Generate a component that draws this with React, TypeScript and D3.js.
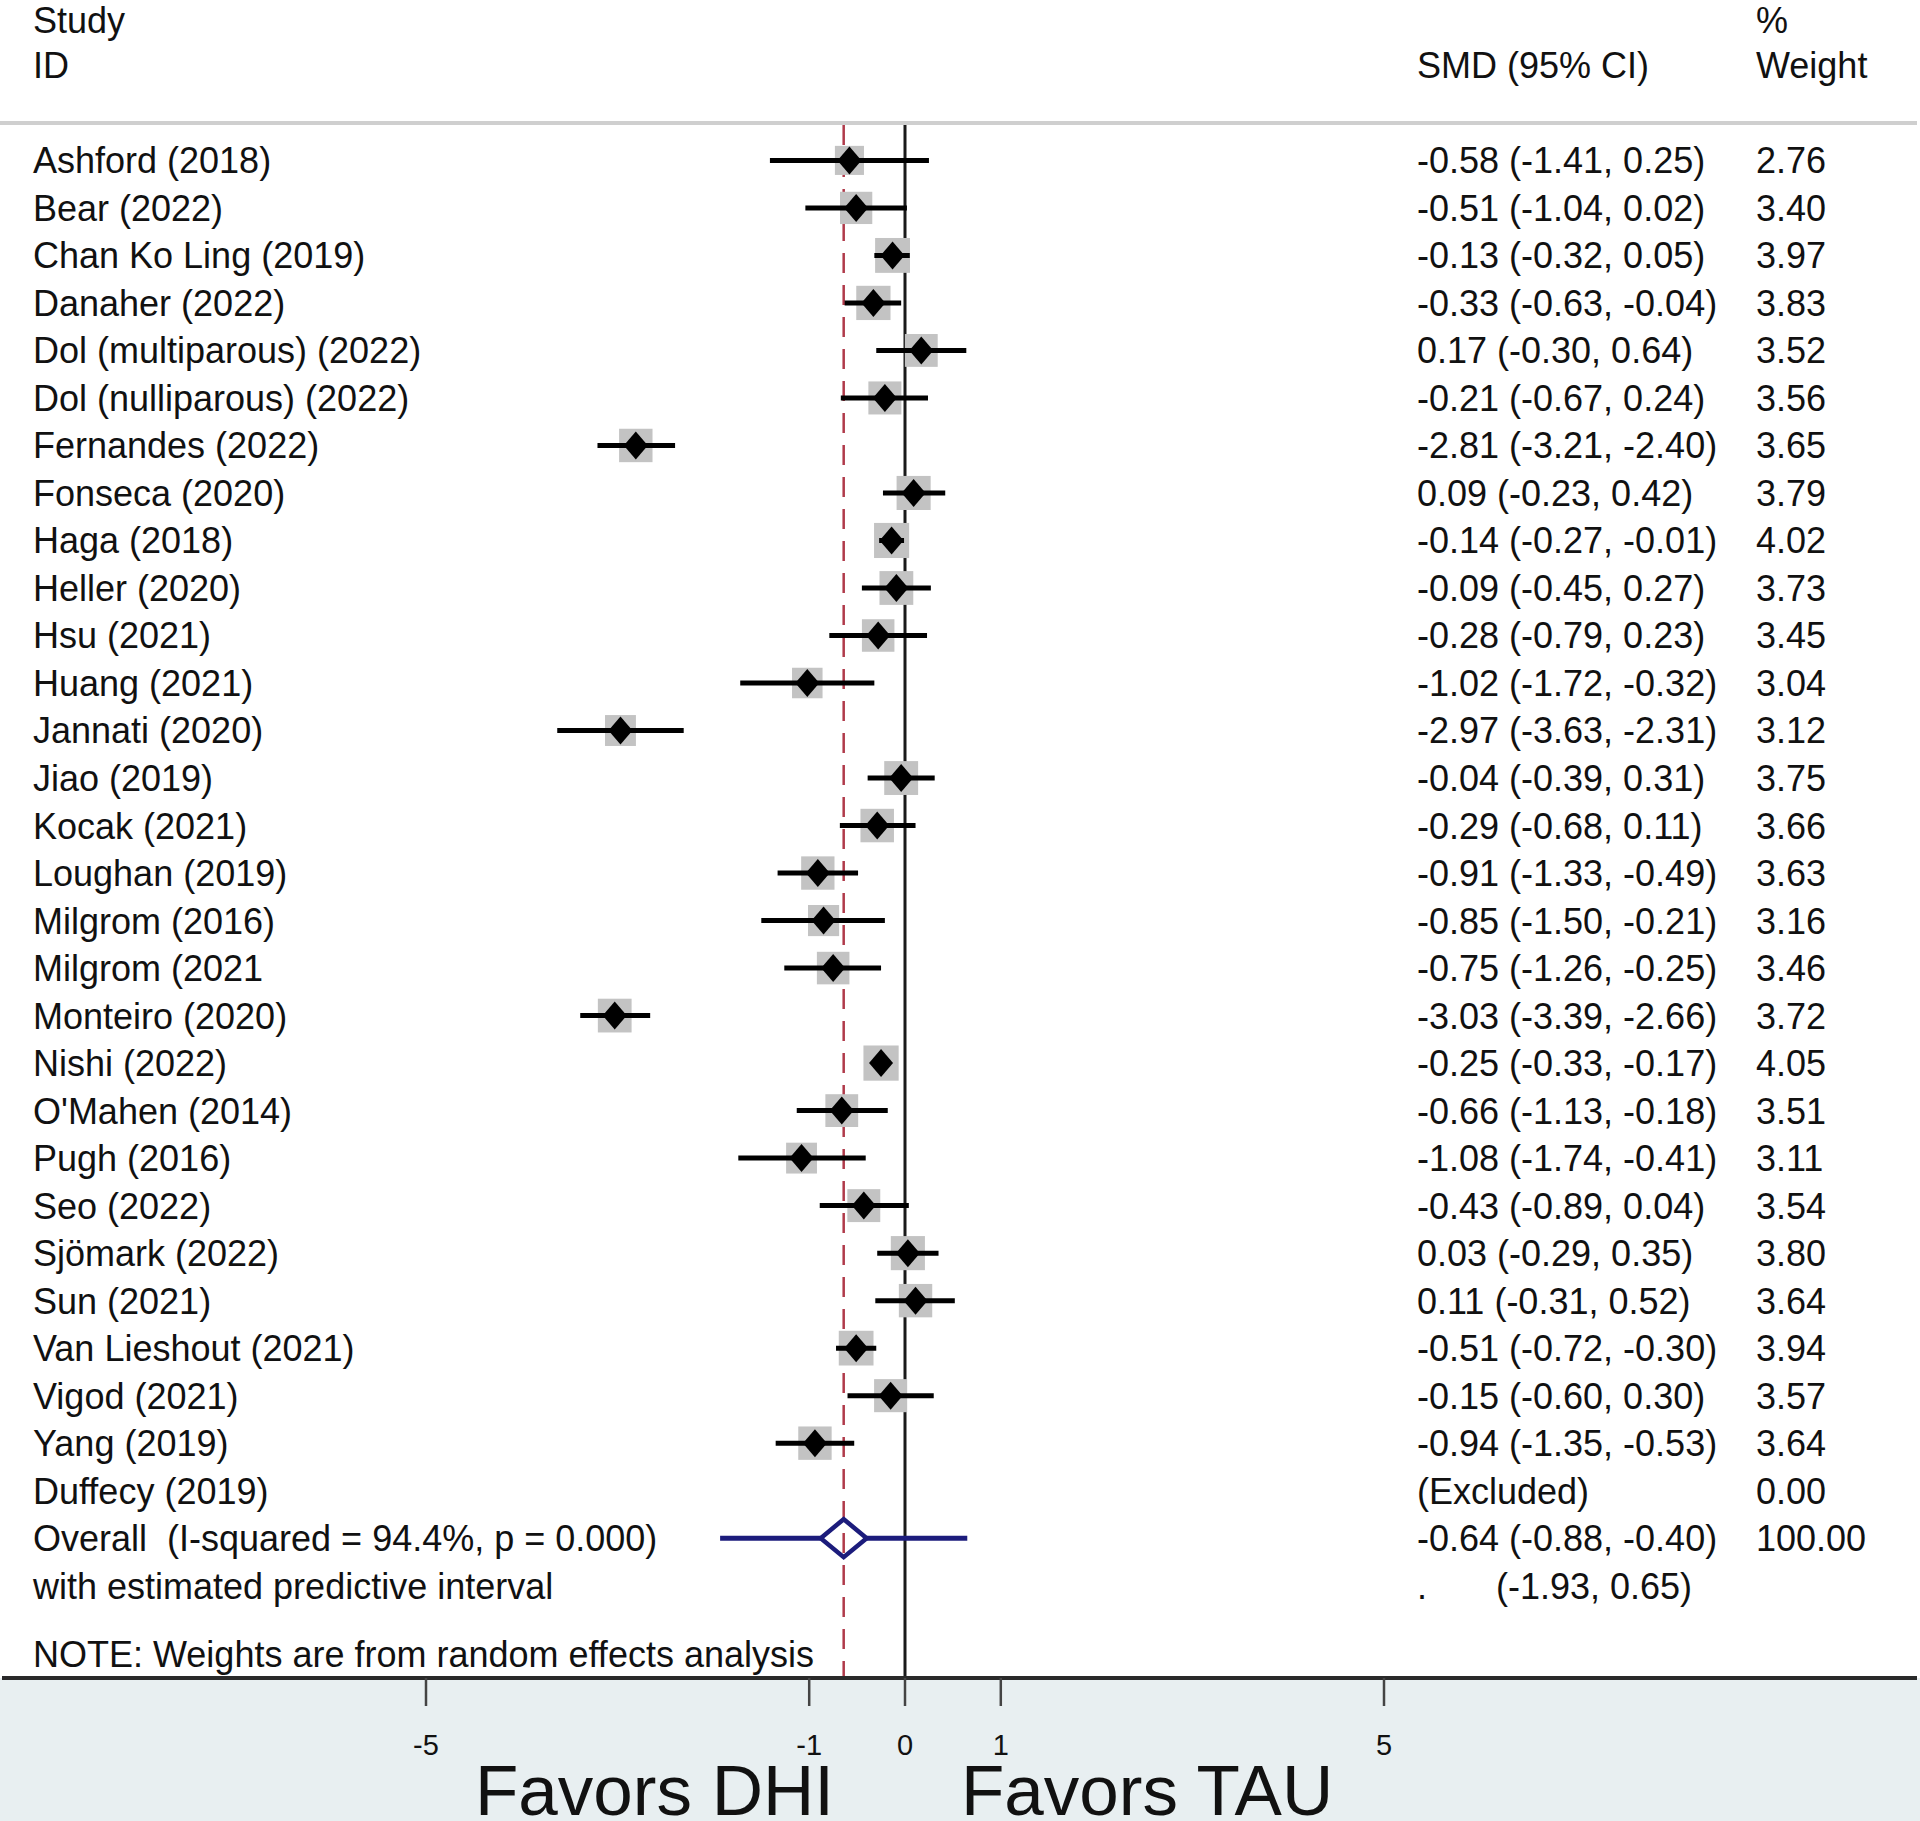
import React from 'react';
import * as d3 from 'd3';

// ---------- DATA ----------
const studies = [
  'Ashford (2018)', 'Bear (2022)', 'Chan Ko Ling (2019)', 'Danaher (2022)',
  'Dol (multiparous) (2022)', 'Dol (nulliparous) (2022)', 'Fernandes (2022)',
  'Fonseca (2020)', 'Haga (2018)', 'Heller (2020)', 'Hsu (2021)', 'Huang (2021)',
  'Jannati (2020)', 'Jiao (2019)', 'Kocak (2021)', 'Loughan (2019)',
  'Milgrom (2016)', 'Milgrom (2021', 'Monteiro (2020)', 'Nishi (2022)',
  "O'Mahen (2014)", 'Pugh (2016)', 'Seo (2022)', 'Sjömark (2022)', 'Sun (2021)',
  'Van Lieshout (2021)', 'Vigod (2021)', 'Yang (2019)',
];
const smd = [
  -0.58, -0.51, -0.13, -0.33, 0.17, -0.21, -2.81, 0.09, -0.14, -0.09, -0.28, -1.02,
  -2.97, -0.04, -0.29, -0.91, -0.85, -0.75, -3.03, -0.25, -0.66, -1.08, -0.43, 0.03,
  0.11, -0.51, -0.15, -0.94,
];
const lower = [
  -1.41, -1.04, -0.32, -0.63, -0.30, -0.67, -3.21, -0.23, -0.27, -0.45, -0.79, -1.72,
  -3.63, -0.39, -0.68, -1.33, -1.50, -1.26, -3.39, -0.33, -1.13, -1.74, -0.89, -0.29,
  -0.31, -0.72, -0.60, -1.35,
];
const upper = [
  0.25, 0.02, 0.05, -0.04, 0.64, 0.24, -2.40, 0.42, -0.01, 0.27, 0.23, -0.32,
  -2.31, 0.31, 0.11, -0.49, -0.21, -0.25, -2.66, -0.17, -0.18, -0.41, 0.04, 0.35,
  0.52, -0.30, 0.30, -0.53,
];
const weights = [
  2.76, 3.40, 3.97, 3.83, 3.52, 3.56, 3.65, 3.79, 4.02, 3.73, 3.45, 3.04,
  3.12, 3.75, 3.66, 3.63, 3.16, 3.46, 3.72, 4.05, 3.51, 3.11, 3.54, 3.80,
  3.64, 3.94, 3.57, 3.64,
];
const excludedStudy = 'Duffecy (2019)';
const excludedWeight = 0.0;
const overallLabel = 'Overall  (I-squared = 94.4%, p = 0.000)';
const overallEstimate = [-0.64, -0.88, -0.40]; // estimate, lower, upper
const overallWeight = 100.0;
const predictiveLabel = 'with estimated predictive interval';
const predictiveInterval = [-1.93, 0.65];
const noteText = 'NOTE: Weights are from random effects analysis';
const xTicks = [-5, -1, 0, 1, 5];
const favorsLabels = ['Favors DHI', 'Favors TAU'];

// ---------- LAYOUT ----------
const W = 1920;
const H = 1821;
const FONT = "'Liberation Sans', Arial, Helvetica, sans-serif";
const fmt = (v: number) => v.toFixed(2);

export default function App() {
  const x = d3.scaleLinear().domain([-5, 5]).range([426, 1384]);
  const nRows = studies.length + 3; // + excluded, overall, predictive
  const y = d3.scaleLinear().domain([0, nRows - 1]).range([160.4, 1585.7]);
  const side = d3.scaleSqrt().domain([0, 4]).range([0, 35]);

  const headerY = 123;
  const axisY = 1678;
  const textX = 33;
  const ciX = 1417;
  const wX = 1756;
  const fs = 36;

  const diamond = (cx: number, cy: number, hw: number, hh: number) =>
    `M${cx - hw},${cy} L${cx},${cy - hh} L${cx + hw},${cy} L${cx},${cy + hh} Z`;

  const iExcl = studies.length;
  const iOverall = studies.length + 1;
  const iPred = studies.length + 2;
  const yo = y(iOverall);

  return (
    <svg
      width={W}
      height={H}
      style={{ position: 'absolute', left: 0, top: 0, display: 'block', background: '#fff' }}
      fontFamily={FONT}
    >
      {/* bottom band */}
      <rect x={0} y={axisY} width={W} height={H - axisY} fill="#e8eff1" />

      {/* header */}
      <g fontSize={fs} fill="#111">
        <text x={textX} y={33}>Study</text>
        <text x={textX} y={78}>ID</text>
        <text x={ciX} y={78}>SMD (95% CI)</text>
        <text x={wX} y={33}>%</text>
        <text x={wX} y={78}>Weight</text>
      </g>
      <line x1={0} x2={1917} y1={headerY} y2={headerY} stroke="#cfcfcf" strokeWidth={4} />

      {/* reference lines */}
      <line
        x1={x(overallEstimate[0])} x2={x(overallEstimate[0])}
        y1={headerY + 2} y2={axisY}
        stroke="#b03a4a" strokeWidth={2.5} strokeDasharray="20 12"
      />
      <line x1={x(0)} x2={x(0)} y1={headerY + 2} y2={axisY} stroke="#1a1a1a" strokeWidth={3} />

      {/* study rows */}
      {studies.map((s, i) => {
        const cy = y(i);
        const cx = x(smd[i]);
        const sd = side(weights[i]);
        return (
          <g key={s}>
            <rect x={cx - sd / 2} y={cy - sd / 2} width={sd} height={sd} fill="#c3c3c3" />
            <line x1={x(lower[i])} x2={x(upper[i])} y1={cy} y2={cy} stroke="#000" strokeWidth={5} />
            <path d={diamond(cx, cy, 12, 14)} fill="#000" />
            <text x={textX} y={cy} dy="0.36em" fontSize={fs} fill="#111">{s}</text>
            <text x={ciX} y={cy} dy="0.36em" fontSize={fs} fill="#111">
              {`${fmt(smd[i])} (${fmt(lower[i])}, ${fmt(upper[i])})`}
            </text>
            <text x={wX} y={cy} dy="0.36em" fontSize={fs} fill="#111">{fmt(weights[i])}</text>
          </g>
        );
      })}

      {/* excluded */}
      <g fontSize={fs} fill="#111">
        <text x={textX} y={y(iExcl)} dy="0.36em">{excludedStudy}</text>
        <text x={ciX} y={y(iExcl)} dy="0.36em">(Excluded)</text>
        <text x={wX} y={y(iExcl)} dy="0.36em">{fmt(excludedWeight)}</text>
      </g>

      {/* overall */}
      <line x1={x(predictiveInterval[0])} x2={x(overallEstimate[1])} y1={yo} y2={yo} stroke="#1c1c7c" strokeWidth={5} />
      <line x1={x(overallEstimate[2])} x2={x(predictiveInterval[1])} y1={yo} y2={yo} stroke="#1c1c7c" strokeWidth={5} />
      <path
        d={`M${x(overallEstimate[1])},${yo} L${x(overallEstimate[0])},${yo - 19} L${x(overallEstimate[2])},${yo} L${x(overallEstimate[0])},${yo + 19} Z`}
        fill="none" stroke="#1c1c7c" strokeWidth={4.5} strokeLinejoin="miter"
      />
      <g fontSize={fs} fill="#111">
        <text x={textX} y={yo} dy="0.36em" style={{ whiteSpace: 'pre' }} xmlSpace="preserve">{overallLabel}</text>
        <text x={ciX} y={yo} dy="0.36em">
          {`${fmt(overallEstimate[0])} (${fmt(overallEstimate[1])}, ${fmt(overallEstimate[2])})`}
        </text>
        <text x={wX} y={yo} dy="0.36em">{fmt(overallWeight)}</text>
        <text x={textX} y={y(iPred)} dy="0.36em">{predictiveLabel}</text>
        <text x={ciX} y={y(iPred)} dy="0.36em">.</text>
        <text x={1496} y={y(iPred)} dy="0.36em">
          {`(${fmt(predictiveInterval[0])}, ${fmt(predictiveInterval[1])})`}
        </text>
        <text x={textX} y={1667}>{noteText}</text>
      </g>

      {/* axis */}
      <line x1={2} x2={1917} y1={axisY} y2={axisY} stroke="#2a2a2a" strokeWidth={4} />
      {xTicks.map((t) => (
        <g key={t}>
          <line x1={x(t)} x2={x(t)} y1={axisY} y2={1706} stroke="#444" strokeWidth={2.5} />
          <text x={x(t)} y={1755} textAnchor="middle" fontSize={29} fill="#111">{String(t)}</text>
        </g>
      ))}
      <text x={475} y={1815} fontSize={71} fill="#111">{favorsLabels[0]}</text>
      <text x={961} y={1815} fontSize={71} fill="#111">{favorsLabels[1]}</text>
    </svg>
  );
}
